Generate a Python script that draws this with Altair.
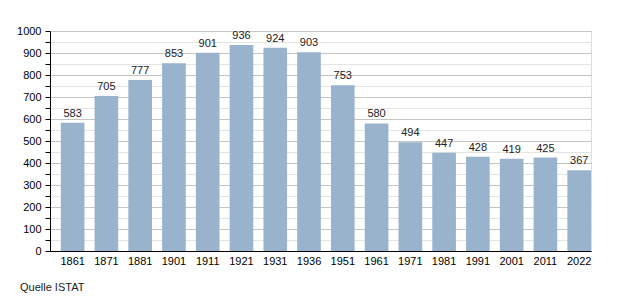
import altair as alt
import pandas as pd

years = ["1861", "1871", "1881", "1901", "1911", "1921", "1931", "1936",
         "1951", "1961", "1971", "1981", "1991", "2001", "2011", "2022"]
population = [583, 705, 777, 853, 901, 936, 924, 903,
              753, 580, 494, 447, 428, 419, 425, 367]
y_ticks = list(range(0, 1001, 50))
source = "Quelle ISTAT"

df = pd.DataFrame({"year": years, "pop": population})

FONT = "Liberation Sans"

x = alt.X("year:N", sort=years, title=None,
          scale=alt.Scale(paddingInner=0.3, paddingOuter=0.16, align=1),
          axis=alt.Axis(labelAngle=0, ticks=False, domainColor="black",
                        labelColor="black", labelFontSize=11, labelFont=FONT,
                        labelPadding=4, grid=False))
y = alt.Y("pop:Q", title=None,
          scale=alt.Scale(domain=[0, 1000], nice=False),
          axis=alt.Axis(values=y_ticks, tickCount=21, format="d", labelOverlap=False,
                        domainColor="black", tickColor="black",
                        tickSize=5, labelColor="black", labelFontSize=11,
                        labelFont=FONT, labelPadding=4,
                        labelExpr="datum.value % 100 === 0 ? datum.label : ''",
                        grid=True,
                        gridColor=alt.condition("datum.value % 100 === 0",
                                                alt.value("#c4c4c4"),
                                                alt.value("#e4e4e4"))))

base = alt.Chart(df)
bars = base.mark_bar(color="#9ab3cd").encode(x=x, y=y)
labels = base.mark_text(dy=-9, fontSize=11, font=FONT, color="#222222").encode(
    x=x, y=y, text="pop:Q")

note = alt.Chart(pd.DataFrame({"t": [source]})).mark_text(
    align="left", baseline="middle", fontSize=11, font=FONT, color="#222222"
).encode(x=alt.value(-30), y=alt.value(257), text="t:N")

chart = alt.layer(bars, labels, note).properties(
    width=541, height=220,
    padding={"left": 50, "top": 31, "right": 29, "bottom": 49},
    autosize=alt.AutoSizeParams(type="none"),
).configure_view(stroke=None).configure(background="white")

chart.save("out.html", embed_options={"renderer": "svg", "actions": False})
